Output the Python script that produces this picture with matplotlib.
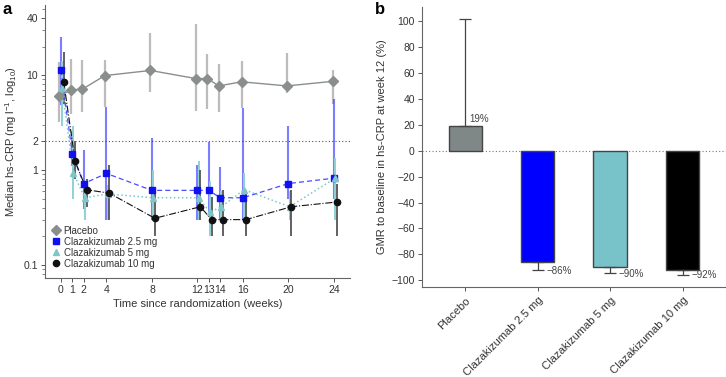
import numpy as np
import matplotlib.pyplot as plt
from matplotlib.ticker import FixedLocator, LogLocator, NullFormatter

plt.rcParams['font.family'] = ['Liberation Sans', 'DejaVu Sans']
plt.rcParams['mathtext.fontset'] = 'custom'
plt.rcParams['mathtext.rm'] = 'Liberation Sans'
plt.rcParams['mathtext.it'] = 'Liberation Sans:italic'
plt.rcParams['font.size'] = 8
plt.rcParams['text.color'] = '#333333'
plt.rcParams['axes.labelcolor'] = '#333333'
plt.rcParams['xtick.color'] = '#555555'
plt.rcParams['ytick.color'] = '#555555'
plt.rcParams['xtick.labelcolor'] = '#333333'
plt.rcParams['ytick.labelcolor'] = '#333333'
plt.rcParams['axes.edgecolor'] = '#666666'

# ---- panel a data (median hs-CRP, mg/l) ----
weeks = [0, 1, 2, 4, 8, 12, 13, 14, 16, 20, 24]

placebo_med = [6.0, 7.0, 7.1, 9.9, 11.2, 9.2, 9.2, 7.7, 8.5, 7.7, 8.6]
placebo_hi = [13.7, 14.7, 14.4, 14.4, 28.0, 34.5, 16.9, 13.0, 14.1, 17.3, 11.3]
placebo_lo = [3.2, 3.9, 4.1, 4.6, 6.6, 4.2, 4.4, 4.1, 4.5, 6.5, 5.0]

cz25_med = [11.3, 1.47, 0.72, 0.92, 0.61, 0.61, 0.61, 0.51, 0.51, 0.72, 0.82]
cz25_hi = [25.0, 2.6, 1.64, 4.6, 2.2, 1.13, 1.95, 1.07, 4.5, 2.9, 5.6]
cz25_lo = [4.9, 1.1, 0.39, 0.30, 0.30, 0.30, 0.36, 0.30, 0.30, 0.50, 0.50]

cz5_med = [7.3, 0.92, 0.51, 0.56, 0.51, 0.51, 0.36, 0.41, 0.62, 0.41, 0.82]
cz5_hi = [14.0, 2.9, 0.62, 0.70, 1.0, 1.23, 0.77, 0.60, 0.92, 0.60, 1.33]
cz5_lo = [2.9, 0.50, 0.30, 0.30, 0.30, 0.30, 0.20, 0.30, 0.30, 0.30, 0.30]

cz10_med = [8.4, 1.23, 0.62, 0.57, 0.31, 0.41, 0.30, 0.30, 0.30, 0.41, 0.46]
cz10_hi = [17.6, 2.0, 0.80, 1.13, 0.61, 1.0, 0.52, 0.62, 0.61, 0.61, 0.71]
cz10_lo = [5.0, 0.80, 0.41, 0.30, 0.20, 0.30, 0.20, 0.20, 0.20, 0.20, 0.20]

# ---- panel b data (GMR to baseline at week 12, %) ----
groups = ['Placebo', 'Clazakizumab 2.5 mg', 'Clazakizumab 5 mg', 'Clazakizumab 10 mg']
gmr = [19, -86, -90, -92]
gmr_ci_end = [101, -92, -94.5, -95.5]

fig = plt.figure(figsize=(7.26, 3.77), dpi=100)
axA = fig.add_axes([0.062, 0.263, 0.420, 0.724])
axB = fig.add_axes([0.581, 0.239, 0.419, 0.742])

series = [
    ('Placebo', placebo_med, placebo_lo, placebo_hi, -0.13,
     dict(color='#8a8f8e', marker='D', ms=5, ls='-', lw=1.0), '#bcbcbc', 1.6),
    ('Clazakizumab 2.5 mg', cz25_med, cz25_lo, cz25_hi, 0.0,
     dict(color='#1010f0', marker='s', ms=5, ls=(0, (4, 2.5)), lw=0.9), (0.15, 0.15, 1.0, 0.6), 1.5),
    ('Clazakizumab 5 mg', cz5_med, cz5_lo, cz5_hi, 0.1,
     dict(color='#7cc6cc', marker='^', ms=5, ls=':', lw=1.1), '#8fd0d5', 1.4),
    ('Clazakizumab 10 mg', cz10_med, cz10_lo, cz10_hi, 0.25,
     dict(color='#111111', marker='o', ms=4.5, ls='-.', lw=0.8), '#555555', 1.3),
]

for name, med, lo, hi, dx, style, ecol, elw in series:
    x = np.array(weeks) + dx
    med = np.array(med)
    yerr = [med - np.array(lo), np.array(hi) - med]
    axA.errorbar(x, med, yerr=yerr, fmt='none', ecolor=ecol, elinewidth=elw, capsize=0, zorder=2)

for name, med, lo, hi, dx, style, ecol, elw in series:
    x = np.array(weeks) + dx
    lc = style['color']
    if name == 'Clazakizumab 2.5 mg':
        lc = '#4a4aff'
    axA.plot(x, med, color=lc, ls=style['ls'], lw=style['lw'], zorder=3)
    axA.plot(x, med, ls='none', marker=style['marker'], ms=style['ms'],
             color=style['color'], mec=style['color'], label=name, zorder=4)

axA.axhline(2, color='#555555', ls=(0, (1, 2)), lw=0.8, zorder=1)
axA.set_yscale('log')
axA.set_ylim(0.073, 55)
axA.set_xlim(-1.4, 25.4)
axA.yaxis.set_major_locator(FixedLocator([0.1, 1, 2, 10, 40]))
axA.set_yticklabels(['0.1', '1', '2', '10', '40'])
axA.yaxis.set_minor_locator(LogLocator(base=10, subs=np.arange(2, 10)))
axA.yaxis.set_minor_formatter(NullFormatter())
axA.set_xticks(weeks)
axA.set_xticklabels([str(w) for w in weeks])
axA.set_xlabel('Time since randomization (weeks)', fontsize=8, labelpad=3)
axA.set_ylabel(r'Median hs-CRP (mg l$^{-1}$, log$_{10}$)', fontsize=8, labelpad=3)
axA.tick_params(axis='both', length=3, width=0.7, pad=2, labelsize=7.5)
axA.tick_params(axis='y', which='minor', length=2, width=0.5)
for s in ['top', 'right']:
    axA.spines[s].set_visible(False)
axA.legend(loc='lower left', frameon=False, handlelength=0.8, handletextpad=0.4,
           labelspacing=0.1, borderaxespad=0.0, fontsize=7, bbox_to_anchor=(0.01, 0.02))

# ---- panel b ----
bar_cols = ['#7f8886', '#0000ff', '#78c3ca', '#000000']
xb = np.arange(len(groups))
gmr = np.array(gmr)
ci = np.array(gmr_ci_end)
axB.bar(xb, gmr, width=0.46, color=bar_cols, edgecolor='#444444', linewidth=1.0, zorder=2)
err_lo = np.where(gmr < 0, gmr - ci, 0)
err_hi = np.where(gmr > 0, ci - gmr, 0)
axB.errorbar(xb, gmr, yerr=[err_lo, err_hi], fmt='none', ecolor='#444444',
             elinewidth=0.9, capsize=4, capthick=0.9, zorder=3)
axB.axhline(0, color='#777777', ls=(0, (1, 2)), lw=0.8, zorder=1)
for i, (v, c) in enumerate(zip(gmr, ci)):
    if v > 0:
        axB.text(i + 0.05, v + 1.5, f'{v}%', ha='left', va='bottom', fontsize=7, color='#444444')
    else:
        axB.text(i + 0.12, c - 0.5, f'\u2212{abs(v)}%', ha='left', va='center', fontsize=7, color='#444444')

axB.set_xlim(-0.6, 3.6)
axB.set_ylim(-105, 110.5)
axB.set_yticks(np.arange(-100, 101, 20))
axB.set_xticks(xb)
axB.set_xticklabels(groups, rotation=45, ha='right', rotation_mode='anchor')
axB.set_ylabel('GMR to baseline in hs-CRP at week 12 (%)', fontsize=8, labelpad=3)
axB.tick_params(axis='both', length=3, width=0.7, pad=2, labelsize=7.5)
axB.tick_params(axis='x', pad=3, labelsize=8)
for s in ['top', 'right']:
    axB.spines[s].set_visible(False)

fig.text(0.004, 0.975, 'a', fontsize=12, fontweight='bold', color='black', va='center')
fig.text(0.517, 0.975, 'b', fontsize=12, fontweight='bold', color='black', va='center')

fig.savefig('out.png', dpi=100)
